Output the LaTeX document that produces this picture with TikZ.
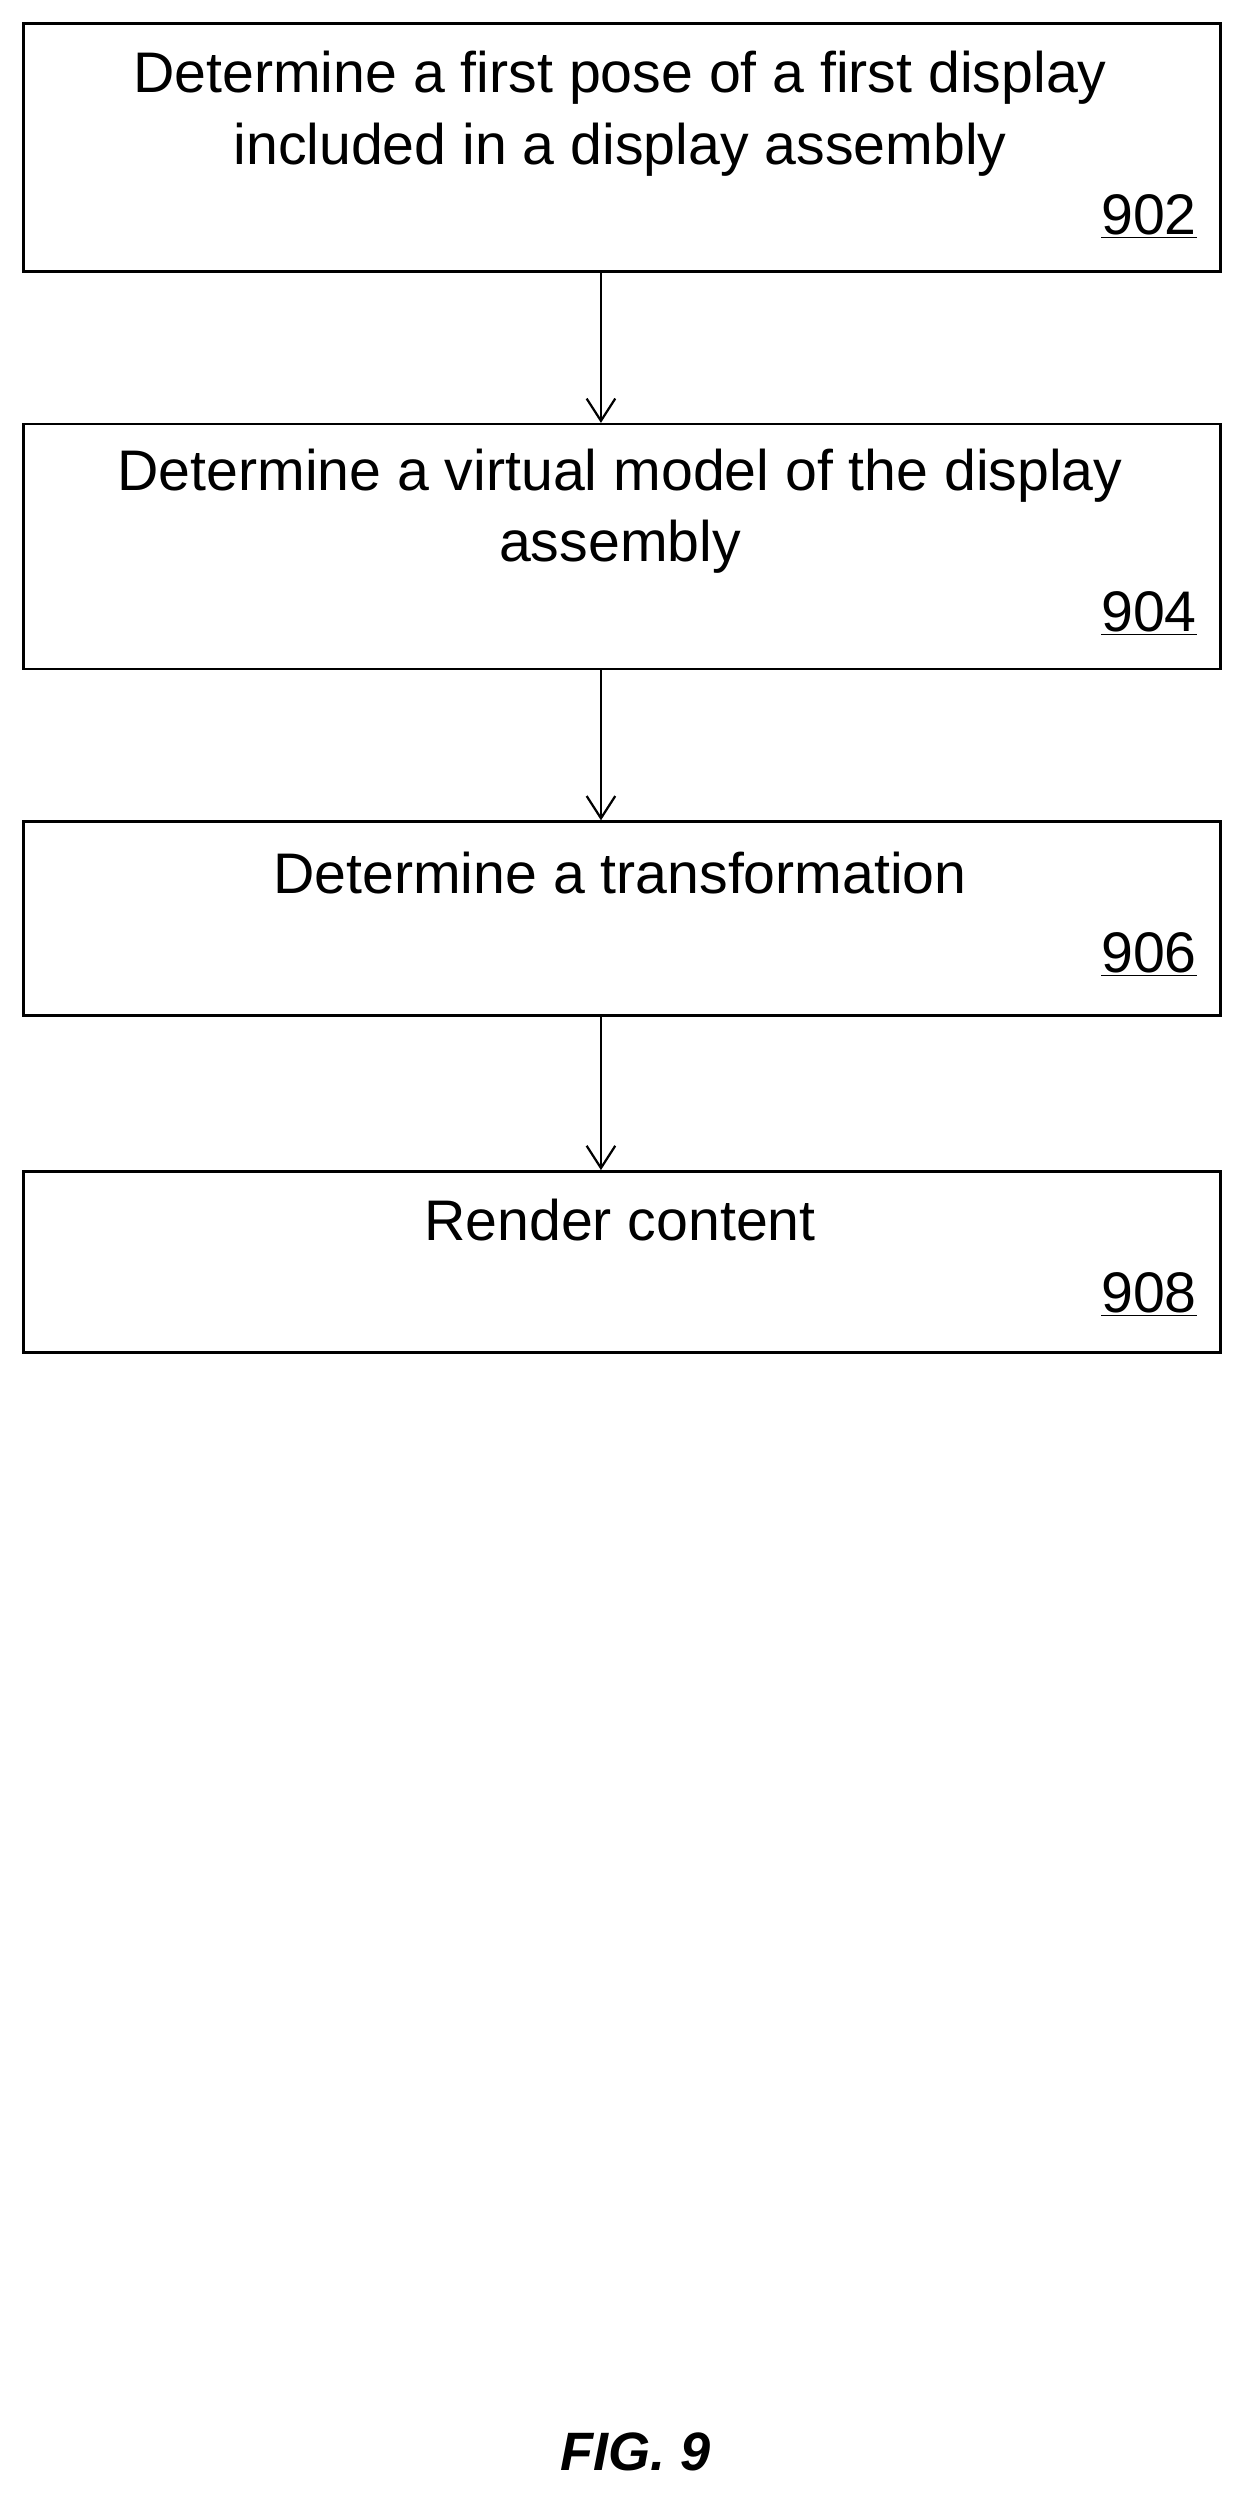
\documentclass[tikz,border=0pt]{standalone}
\usepackage{fontspec}
\setmainfont{Liberation Sans}
\usetikzlibrary{positioning,arrows.meta}
\begin{document}
\begin{tikzpicture}[x=1pt,y=-1pt,
  every node/.style={inner sep=0pt},
  stepbox/.style={draw=black,line width=1.6pt,minimum width=753pt,anchor=north west},
  steptext/.style={align=center,font=\fontsize{36}{45}\selectfont},
  stepnum/.style={font=\fontsize{36}{40}\selectfont,anchor=south east},
  flow/.style={-{Straight Barb[length=14pt,width=18pt,line width=1.4pt]},line width=1.4pt}]
\useasboundingbox (0,0) rectangle (780,1570);
% Boxes
\node (b1)[stepbox,minimum height=156pt] at (14,14) {};
\node (b2)[stepbox,minimum height=154pt] at (14,266) {};
\node (b3)[stepbox,minimum height=122pt] at (14,516) {};
\node (b4)[stepbox,minimum height=114pt] at (14,736) {};
% Texts
\node (t1)[steptext,anchor=north] at (390,32) {Determine a first pose of a first display\\included in a display assembly};
\node (t2)[steptext,anchor=north] at (390,282) {Determine a virtual model of the display\\assembly};
\node (t3)[steptext,anchor=north] at (390,536) {Determine a transformation};
\node (t4)[steptext,anchor=north] at (390,754) {Render content};
% Numbers
\node (n1)[stepnum] at (753,150) {\underline{902}};
\node (n2)[stepnum] at (753,400) {\underline{904}};
\node (n3)[stepnum] at (753,614) {\underline{906}};
\node (n4)[stepnum] at (753,828) {\underline{908}};
% Arrows
\draw[flow] (b1.south -| 378,0) -- (b2.north -| 378,0);
\draw[flow] (b2.south -| 378,0) -- (b3.north -| 378,0);
\draw[flow] (b3.south -| 378,0) -- (b4.north -| 378,0);
\node (fig) at (400,1542) {\fontsize{34}{40}\selectfont\bfseries\itshape FIG. 9};
\end{tikzpicture}
\end{document}
